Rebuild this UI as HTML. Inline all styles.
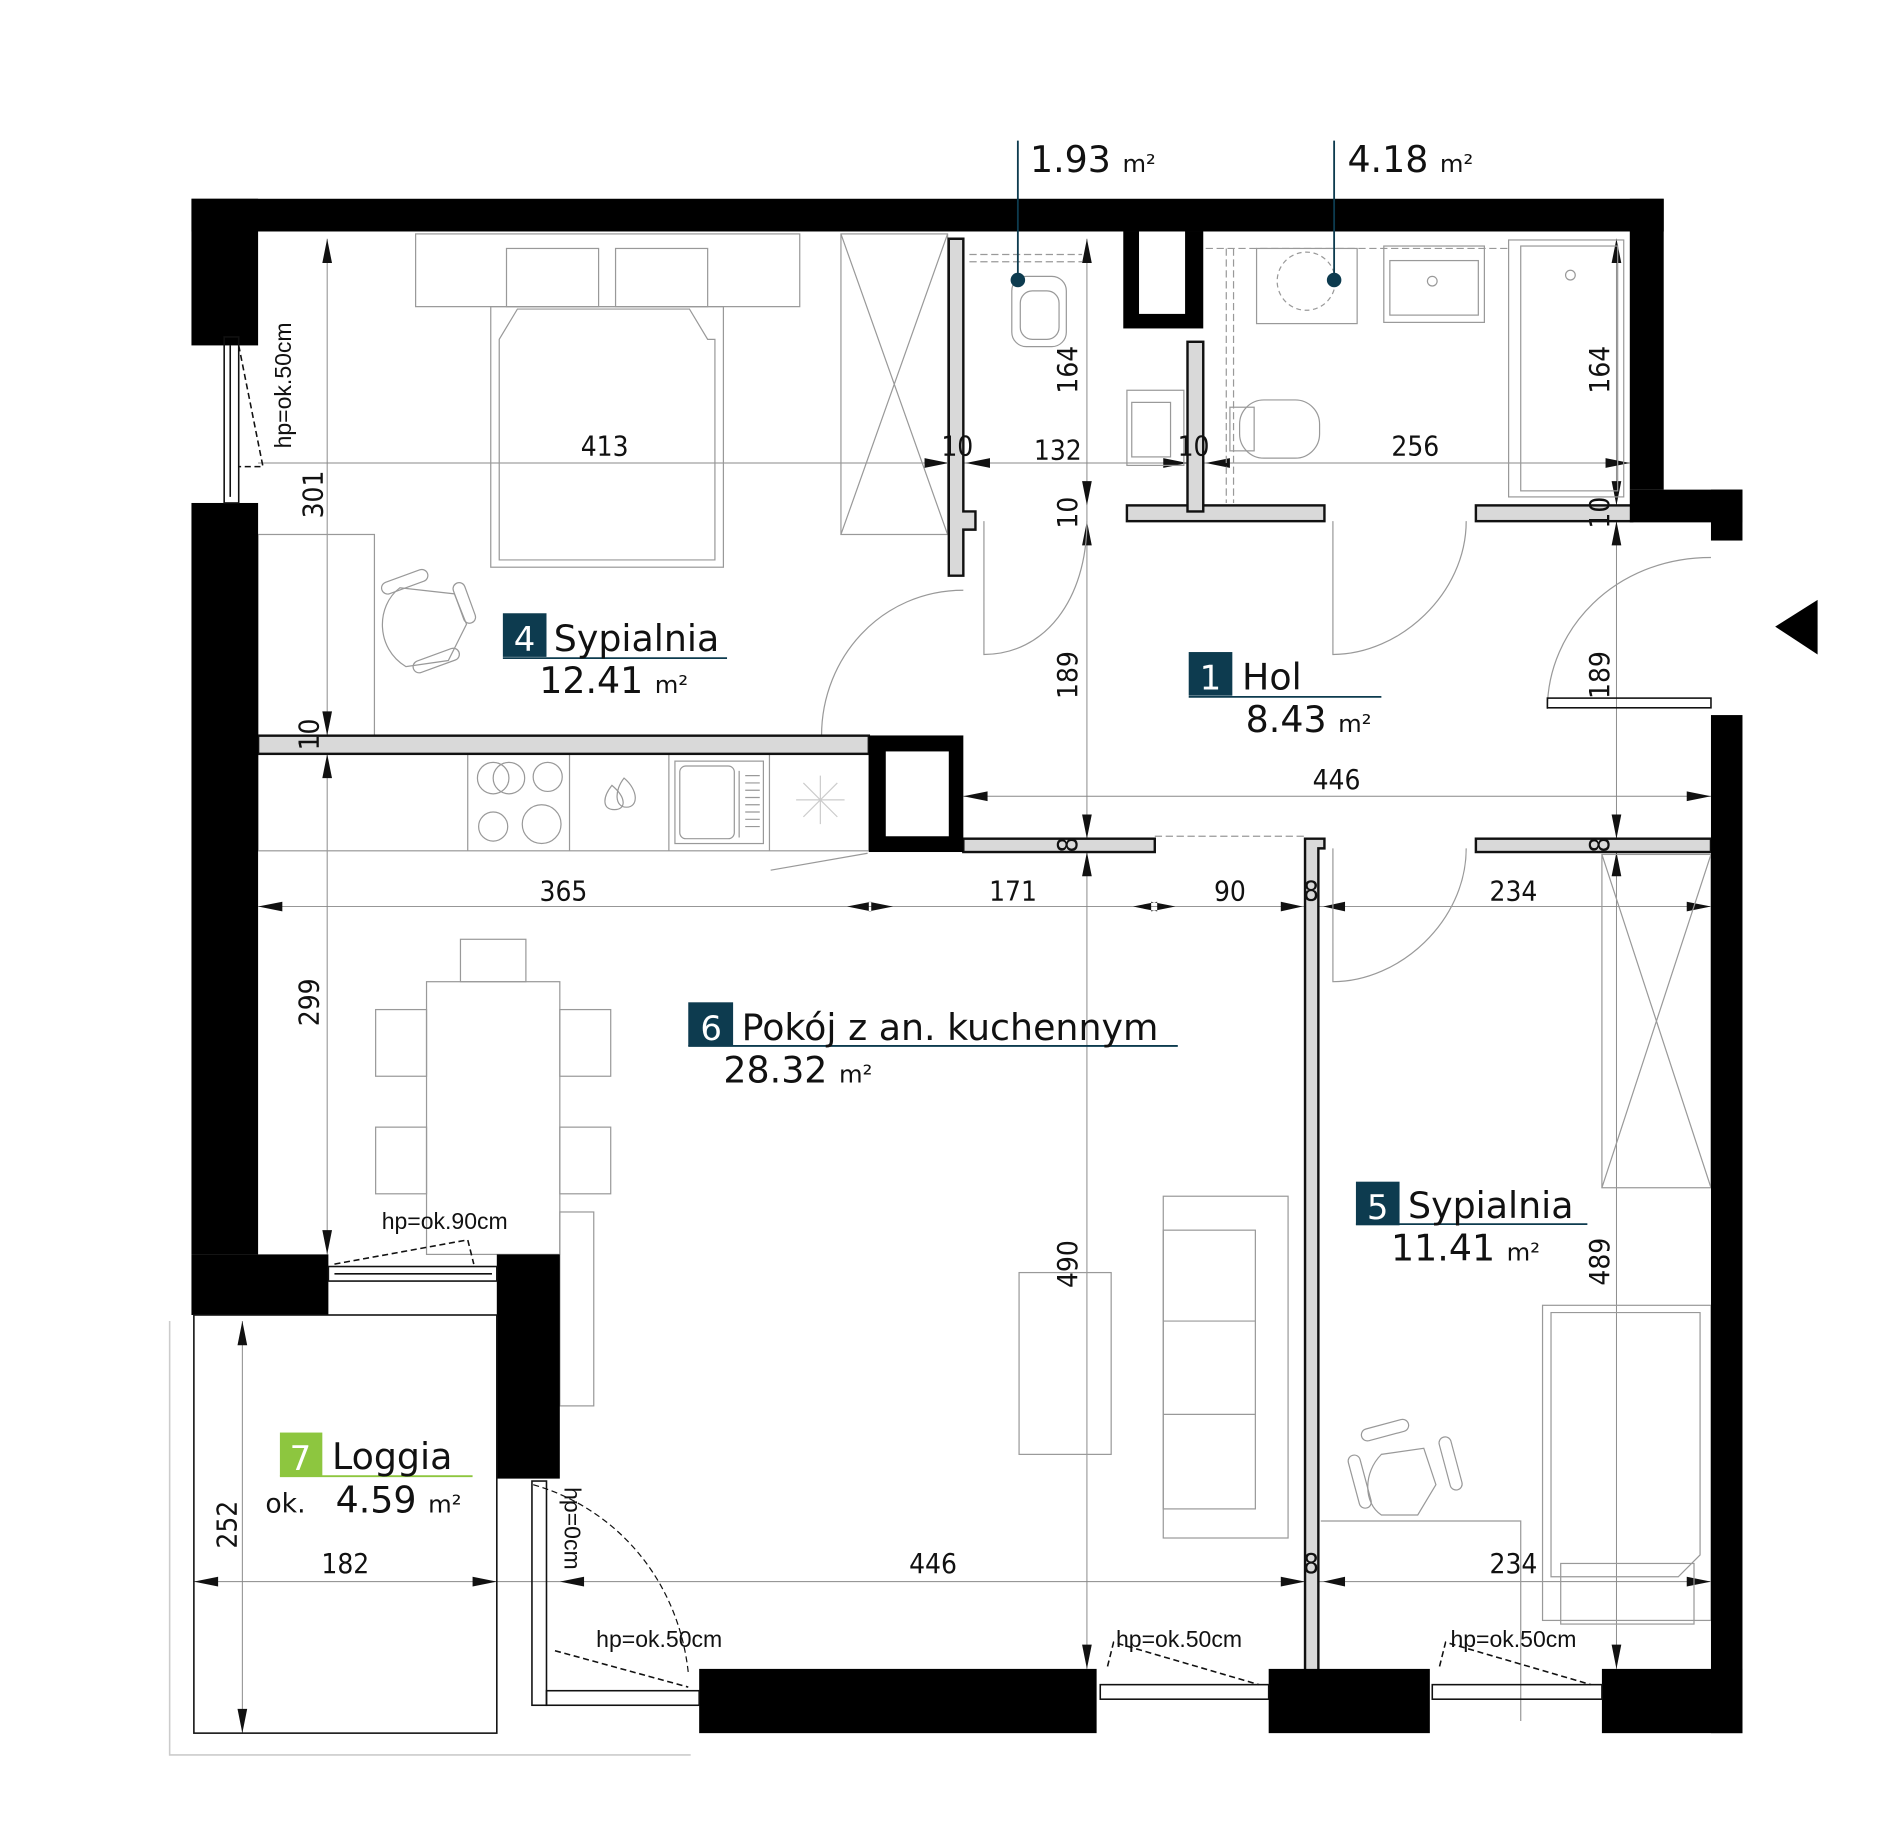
<!DOCTYPE html>
<html><head><meta charset="utf-8"><style>
html,body{margin:0;padding:0;background:#fff;}
svg{display:block}
.t{font-family:"DejaVu Sans","Liberation Sans",sans-serif;fill:#111}
.d{font-family:"DejaVu Sans Condensed","DejaVu Sans","Liberation Sans",sans-serif;font-size:23px;fill:#111}
.h{font-family:"Liberation Sans",sans-serif;font-size:19px;fill:#111}
.f{fill:none;stroke:#999;stroke-width:1}
.dl{stroke:#888;stroke-width:.8;fill:none}
.gw{fill:#d9d9d9;stroke:#111;stroke-width:2}
</style></head><body>
<svg width="1900" height="1841" viewBox="0 0 1568 1519" preserveAspectRatio="none" xmlns="http://www.w3.org/2000/svg">
<rect width="1568" height="1519" fill="#fff"/>

<!-- dimension lines -->
<g class="dl">
<line x1="213" y1="382" x2="1345" y2="382"/>
<line x1="795" y1="657" x2="1412" y2="657"/>
<line x1="213" y1="748" x2="1412" y2="748"/>
<line x1="160" y1="1305" x2="1412" y2="1305"/>
<line x1="270" y1="197" x2="270" y2="1035"/>
<line x1="897" y1="197" x2="897" y2="1377"/>
<line x1="1334" y1="197" x2="1334" y2="1377"/>
<line x1="200" y1="1090" x2="200" y2="1430"/>
</g>
<g fill="#111">
<path d="M213 748l20-4v8z M1412 748l-20-4v8z M737 748l-20-4v8z M699 748l20-4v8z M935 748l20-4v8z M970 748l-20-4v8z M1075 748l-18-4v8z M1092 748l18-4v8z"/>
<path d="M795 657l20-4v8z M1412 657l-20-4v8z M160 1305l20-4v8z M410 1305l-20-4v8z M462 1305l20-4v8z M1077 1305l-20-4v8z M1092 1305l18-4v8z M1412 1305l-20-4v8z"/>
<path d="M783 382l-20-4v8z M797 382l20-4v8z M980 382l-20-4v8z M995 382l20-4v8z M1345 382l-20-4v8z"/>
<path d="M270 197l-4 20h8z M270 607l-4-20h8z M270 622l-4 20h8z M270 1035l-4-20h8z M897 197l-4 20h8z M897 417l-4-20h8z M897 430l-4 20h8z M897 692l-4-20h8z M897 703l-4 20h8z M897 1377l-4-20h8z"/>
<path d="M1334 197l-4 20h8z M1334 417l-4-20h8z M1334 430l-4 20h8z M1334 692l-4-20h8z M1334 703l-4 20h8z M1334 1377l-4-20h8z M200 1090l-4 20h8z M200 1430l-4-20h8z"/>
</g>

<!-- furniture bedroom 4 -->
<g class="f">
<rect x="343" y="193" width="317" height="60"/>
<rect x="418" y="205" width="76" height="48"/><rect x="508" y="205" width="76" height="48"/>
<rect x="405" y="253" width="192" height="215"/>
<path d="M412 462V280l15-25h142l15 25 6 0V462z"/>
<rect x="694" y="193" width="88" height="248"/>
<path d="M694 193L782 441M782 193L694 441"/>
<rect x="213" y="441" width="96" height="166"/>
<path d="M330 485c-20 15-20 50 5 65l35-5 15-30-10-25z"/>
<rect x="314" y="475" width="40" height="10" rx="5" transform="rotate(-20 334 480)"/>
<rect x="340" y="540" width="40" height="10" rx="5" transform="rotate(-20 360 545)"/>
<rect x="378" y="480" width="10" height="35" rx="5" transform="rotate(-20 383 497)"/>
<!-- kitchen -->
<rect x="213" y="622" width="504" height="80"/>
<path d="M386 622V702M470 622V702M552 622V702M635 622V702"/>
<circle cx="407" cy="642" r="13"/><circle cx="420" cy="642" r="13"/><circle cx="452" cy="641" r="12"/><circle cx="407" cy="682" r="12"/><circle cx="447" cy="680" r="16"/>
<path d="M505 648c-8 10-8 20 2 20s10-10-2-20zM515 642c-8 10-8 24 2 24s10-14-2-24z"/>
<rect x="557" y="628" width="73" height="68"/><rect x="561" y="632" width="45" height="60" rx="5"/>
<path d="M610 636v55M615 640h12M615 646h12M615 652h12M615 658h12M615 664h12M615 670h12M615 676h12M615 682h12"/>
<path d="M677 640v40M657 660h40M663 646l28 28M691 646l-28 28" stroke="#ccc"/>
<path d="M636 718l80-14"/>
<!-- dining -->
<rect x="352" y="810" width="110" height="225"/>
<rect x="380" y="775" width="54" height="35"/>
<rect x="310" y="833" width="42" height="55"/><rect x="310" y="930" width="42" height="55"/>
<rect x="462" y="833" width="42" height="55"/><rect x="462" y="930" width="42" height="55"/>
<rect x="462" y="1000" width="28" height="160"/>
<!-- living -->
<rect x="841" y="1050" width="76" height="150"/>
<rect x="960" y="987" width="103" height="282"/>
<rect x="960" y="1015" width="76" height="230"/>
<path d="M960 1090h76M960 1167h76"/>
<!-- bedroom 5 -->
<rect x="1322" y="705" width="90" height="275"/><path d="M1322 705L1412 980M1412 705L1322 980"/>
<rect x="1273" y="1077" width="139" height="260"/>
<path d="M1280 1083h123v200l-18 18h-105z"/>
<rect x="1288" y="1290" width="110" height="50"/>
<path d="M1090 1255h165v165"/>
<path d="M1140 1200c-15 15-15 40 0 50h30l15-25-10-30z"/>
<rect x="1123" y="1175" width="40" height="10" rx="5" transform="rotate(-15 1143 1180)"/>
<rect x="1117" y="1200" width="10" height="45" rx="5" transform="rotate(-15 1122 1222)"/>
<rect x="1192" y="1185" width="10" height="45" rx="5" transform="rotate(-15 1197 1207)"/>
<!-- WC / bath -->
<rect x="1037" y="205" width="83" height="62"/><circle cx="1078" cy="232" r="24" stroke-dasharray="4 3"/>
<rect x="1142" y="203" width="83" height="63"/><rect x="1147" y="215" width="73" height="45"/>
<circle cx="1182" cy="232" r="4"/>
<rect x="1245" y="198" width="95" height="212"/><rect x="1255" y="203" width="80" height="202"/><circle cx="1296" cy="227" r="4"/>
<rect x="1023" y="330" width="66" height="48" rx="20"/><rect x="1015" y="336" width="20" height="36"/>
<rect x="835" y="228" width="45" height="58" rx="12"/><rect x="842" y="240" width="32" height="40" rx="10"/>
<rect x="930" y="322" width="47" height="62"/><rect x="934" y="332" width="32" height="45"/>
<path d="M1012 205v210M1018 205v210M800 210h93M800 216h93M995 205h250" stroke-dasharray="6 3"/>
<!-- doors -->
<path d="M795 607H678c0-65 50-120 117-120M812 430v110c50 0 85-45 85-110M1100 430v110c55 0 110-50 110-110M1100 700v110c55 0 110-50 110-110M1412 460c-80 0-135 60-135 125"/>
<path d="M953 690h125" stroke-dasharray="6 3"/>
<path d="M440 1225c70 20 120 80 128 155" stroke="#111" stroke-dasharray="5 3"/>
</g>

<!-- grey partition walls -->
<g class="gw">
<path d="M783 197h12v225h10v15h-10v38h-12z"/>
<rect x="213" y="607" width="504" height="15"/>
<rect x="930" y="417" width="163" height="13"/>
<rect x="980" y="282" width="13" height="140"/>
<rect x="1218" y="417" width="129" height="13"/>
<rect x="795" y="692" width="158" height="11"/>
<rect x="1218" y="692" width="194" height="11"/>
<path d="M1077 692h16v8h-5v685h-11z"/>
</g>

<!-- black walls -->
<g fill="#000">
<rect x="158" y="164" width="1215" height="27"/>
<rect x="158" y="164" width="55" height="121"/>
<rect x="158" y="415" width="55" height="620"/>
<rect x="158" y="1035" width="113" height="50"/>
<rect x="410" y="1035" width="52" height="185"/>
<rect x="1345" y="164" width="28" height="240"/>
<rect x="1345" y="404" width="93" height="27"/>
<rect x="1412" y="404" width="26" height="42"/>
<rect x="1412" y="590" width="26" height="840"/>
<rect x="577" y="1377" width="328" height="53"/>
<rect x="1047" y="1377" width="133" height="53"/>
<rect x="1322" y="1377" width="116" height="53"/>
<rect x="927" y="191" width="66" height="80"/>
<rect x="717" y="607" width="78" height="96"/>
<path d="M1465 517l35-22v45z"/>
</g>
<g fill="#fff"><rect x="940" y="191" width="38" height="68"/><rect x="731" y="620" width="52" height="70"/></g>

<!-- windows -->
<g fill="none" stroke="#111" stroke-width="1.3">
<rect x="185" y="278" width="12" height="137"/><path d="M190 285v125"/>
<path d="M197 285l20 100h-20" stroke-dasharray="5 3"/>
<rect x="271" y="1045" width="139" height="12"/><path d="M276 1051h130"/>
<path d="M276 1043l110-20 5 20" stroke-dasharray="5 3"/>
<rect x="439" y="1222" width="12" height="185"/><rect x="451" y="1395" width="126" height="12"/>
<rect x="908" y="1390" width="139" height="12"/><path d="M914 1375l5-20 120 35" stroke-dasharray="5 3"/>
<rect x="1182" y="1390" width="140" height="12"/><path d="M1188 1375l5-20 120 35" stroke-dasharray="5 3"/>
<path d="M458 1362l110 30" stroke-dasharray="5 3"/>
<rect x="1277" y="576" width="135" height="8"/>
<rect x="160" y="1085" width="250" height="345"/>
<path d="M140 1090v358h430" stroke="#ccc"/>
</g>

<!-- leaders -->
<g stroke="#0d3b4f" stroke-width="1.5"><line x1="840" y1="116" x2="840" y2="231"/><line x1="1101" y1="116" x2="1101" y2="231"/></g>
<circle cx="840" cy="231" r="6" fill="#0d3b4f"/><circle cx="1101" cy="231" r="6" fill="#0d3b4f"/>

<!-- area labels -->
<g class="t">
<text x="850" y="142" font-size="30">1.93 <tspan font-size="20">m²</tspan></text>
<text x="1112" y="142" font-size="30">4.18 <tspan font-size="20">m²</tspan></text>
</g>
<g>
<rect x="415" y="506" width="36" height="36" fill="#0d3b4f"/><text class="t" x="424" y="537" font-size="28" style="fill:#fff">4</text>
<line x1="415" y1="543" x2="600" y2="543" stroke="#0d3b4f" stroke-width="1.5"/>
<text class="t" x="457" y="537" font-size="30">Sypialnia</text>
<text class="t" x="445" y="572" font-size="30">12.41 <tspan font-size="20">m²</tspan></text>

<rect x="981" y="538" width="36" height="36" fill="#0d3b4f"/><text class="t" x="990" y="569" font-size="28" style="fill:#fff">1</text>
<line x1="981" y1="575" x2="1140" y2="575" stroke="#0d3b4f" stroke-width="1.5"/>
<text class="t" x="1025" y="569" font-size="30">Hol</text>
<text class="t" x="1028" y="604" font-size="30">8.43 <tspan font-size="20">m²</tspan></text>

<rect x="568" y="827" width="37" height="36" fill="#0d3b4f"/><text class="t" x="578" y="858" font-size="28" style="fill:#fff">6</text>
<line x1="568" y1="863" x2="972" y2="863" stroke="#0d3b4f" stroke-width="1.5"/>
<text class="t" x="612" y="858" font-size="30">Pokój z an. kuchennym</text>
<text class="t" x="597" y="893" font-size="30">28.32 <tspan font-size="20">m²</tspan></text>

<rect x="1119" y="975" width="36" height="36" fill="#0d3b4f"/><text class="t" x="1128" y="1006" font-size="28" style="fill:#fff">5</text>
<line x1="1119" y1="1010" x2="1310" y2="1010" stroke="#0d3b4f" stroke-width="1.5"/>
<text class="t" x="1162" y="1005" font-size="30">Sypialnia</text>
<text class="t" x="1148" y="1040" font-size="30">11.41 <tspan font-size="20">m²</tspan></text>

<rect x="231" y="1182" width="35" height="36" fill="#8dc63f"/><text class="t" x="239" y="1213" font-size="28" style="fill:#fff">7</text>
<line x1="231" y1="1218" x2="390" y2="1218" stroke="#8dc63f" stroke-width="1.5"/>
<text class="t" x="274" y="1212" font-size="30">Loggia</text>
<text class="t" x="219" y="1248" font-size="22">ok.</text>
<text class="t" x="277" y="1248" font-size="30">4.59 <tspan font-size="20">m²</tspan></text>
</g>

<!-- dimension text -->
<g class="d" text-anchor="middle">
<text x="499" y="376">413</text><text x="790" y="376">10</text><text x="873" y="379">132</text><text x="985" y="376">10</text><text x="1168" y="376">256</text>
<text x="1103" y="651">446</text>
<text x="465" y="743">365</text><text x="836" y="743">171</text><text x="1015" y="743">90</text><text x="1082" y="743">8</text><text x="1249" y="743">234</text>
<text x="285" y="1298">182</text><text x="770" y="1298">446</text><text x="1082" y="1298">8</text><text x="1249" y="1298">234</text>
<text transform="translate(266,408) rotate(-90)">301</text>
<text transform="translate(263,606) rotate(-90)">10</text>
<text transform="translate(263,827) rotate(-90)">299</text>
<text transform="translate(889,305) rotate(-90)">164</text>
<text transform="translate(889,423) rotate(-90)">10</text>
<text transform="translate(889,557) rotate(-90)">189</text>
<text transform="translate(889,697) rotate(-90)">8</text>
<text transform="translate(889,1043) rotate(-90)">490</text>
<text transform="translate(1328,305) rotate(-90)">164</text>
<text transform="translate(1328,423) rotate(-90)">10</text>
<text transform="translate(1328,557) rotate(-90)">189</text>
<text transform="translate(1328,697) rotate(-90)">8</text>
<text transform="translate(1328,1041) rotate(-90)">489</text>
<text transform="translate(195,1258) rotate(-90)">252</text>
</g>
<g class="h">
<text transform="translate(240,370) rotate(-90)">hp=ok.50cm</text>
<text x="315" y="1014">hp=ok.90cm</text>
<text transform="translate(466,1227) rotate(90)">hp=0cm</text>
<text x="492" y="1359">hp=ok.50cm</text>
<text x="921" y="1359">hp=ok.50cm</text>
<text x="1197" y="1359">hp=ok.50cm</text>
</g>
</svg>
</body></html>
